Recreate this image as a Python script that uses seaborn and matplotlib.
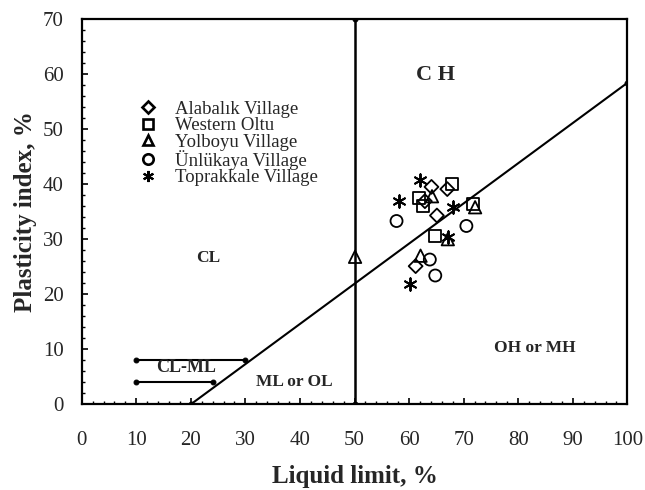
import matplotlib
matplotlib.use("Agg")
import matplotlib.pyplot as plt
from matplotlib.lines import Line2D
from matplotlib.ticker import MultipleLocator
import seaborn as sns
import pandas as pd

# ---- data ----
sites = ["Alabalık Village", "Western Oltu", "Yolboyu Village", "Ünlükaya Village", "Toprakkale Village"]
alabalik_ll = [67.0, 64.1, 62.9, 65.1, 61.2]
alabalik_pi = [39.1, 39.5, 36.9, 34.3, 25.1]
oltu_ll = [67.8, 61.8, 62.6, 71.8, 64.8]
oltu_pi = [40.1, 37.4, 36.1, 36.4, 30.5]
yolboyu_ll = [64.2, 72.1, 67.1, 62.1, 50.1]
yolboyu_pi = [37.8, 35.8, 30.0, 27.0, 26.8]
unlukaya_ll = [57.7, 70.5, 63.8, 64.8]
unlukaya_pi = [33.3, 32.4, 26.3, 23.4]
toprakkale_ll = [62.0, 58.1, 68.1, 67.1, 60.1]
toprakkale_pi = [40.8, 36.9, 35.9, 30.4, 21.9]

aline_ll = [20, 100]
aline_pi = [0, 58.4]
uline_ll = [50, 50]
uline_pi = [0, 70]
clml_top_ll = [10, 30]
clml_top_pi = [8, 8]
clml_bot_ll = [10, 24]
clml_bot_pi = [4, 4]

x_ticks = list(range(0, 101, 10))
y_ticks = list(range(0, 71, 10))

frames = []
for name, ll, pi in zip(sites,
                        [alabalik_ll, oltu_ll, yolboyu_ll, unlukaya_ll, toprakkale_ll],
                        [alabalik_pi, oltu_pi, yolboyu_pi, unlukaya_pi, toprakkale_pi]):
    frames.append(pd.DataFrame({"LL": ll, "PI": pi, "site": name}))
df = pd.concat(frames, ignore_index=True)

markers = {
    "Alabalık Village": "D",
    "Western Oltu": "s",
    "Yolboyu Village": "^",
    "Ünlükaya Village": "o",
    "Toprakkale Village": (6, 2, 0),
}
msizes = {
    "Alabalık Village": 50,
    "Western Oltu": 75,
    "Yolboyu Village": 80,
    "Ünlükaya Village": 75,
    "Toprakkale Village": 80,
}

sns.set_style("ticks")
plt.rcParams["font.family"] = ["Liberation Serif", "DejaVu Serif"]

fig = plt.figure(figsize=(6.45, 4.9), dpi=100)
ax = fig.add_axes([0.1267, 0.1749, 0.8459, 0.7863])

# reference lines
line_kw = dict(ax=ax, color="black", marker="o", ms=3.5, mec="black",
               estimator=None, errorbar=None, sort=False, legend=False)
sns.lineplot(x=aline_ll, y=aline_pi, lw=1.5, **line_kw)
sns.lineplot(x=uline_ll, y=uline_pi, lw=1.8, **line_kw)
sns.lineplot(x=clml_top_ll, y=clml_top_pi, lw=1.5, **line_kw)
sns.lineplot(x=clml_bot_ll, y=clml_bot_pi, lw=1.5, **line_kw)

for name in sites:
    sub = df[df["site"] == name]
    m = markers[name]
    if isinstance(m, tuple):
        sns.scatterplot(data=sub, x="LL", y="PI", ax=ax, marker=m, color="black",
                        s=msizes[name], linewidth=1.4, legend=False, zorder=5)
    else:
        sns.scatterplot(data=sub, x="LL", y="PI", ax=ax, marker=m, facecolor="none",
                        edgecolor="black", s=msizes[name], linewidth=1.3, legend=False, zorder=5)

ax.set_xlim(0, 100)
ax.set_ylim(0, 70)
ax.set_xticks(x_ticks)
ax.set_yticks(y_ticks)
ax.xaxis.set_minor_locator(MultipleLocator(2))
ax.yaxis.set_minor_locator(MultipleLocator(2))
ax.tick_params(axis="both", which="major", direction="in", length=4, width=1.2, labelsize=15, color="black")
ax.tick_params(axis="both", which="minor", direction="in", length=2.5, width=1.0, color="black")
ax.tick_params(axis="x", which="major", pad=19)
ax.tick_params(axis="y", which="major", pad=13)
for sp in ax.spines.values():
    sp.set_visible(True)
    sp.set_linewidth(1.6)
    sp.set_color("black")

ax.set_xlabel("Liquid limit, %", fontsize=18, fontweight="bold", labelpad=11)
ax.set_ylabel("Plasticity index, %", fontsize=18, fontweight="bold", labelpad=4)

# zone labels
ax.text(64.9, 59.8, "C H", fontsize=16, fontweight="bold", ha="center", va="center")
ax.text(23.1, 26.6, "CL", fontsize=12.5, fontweight="bold", ha="center", va="center")
ax.text(19.1, 6.7, "CL-ML", fontsize=13, fontweight="bold", ha="center", va="center")
ax.text(38.9, 4.1, "ML or OL", fontsize=12.5, fontweight="bold", ha="center", va="center")
ax.text(83.1, 10.2, "OH or MH", fontsize=12.5, fontweight="bold", ha="center", va="center")

handles = []
for name in sites:
    m = markers[name]
    if isinstance(m, tuple):
        h = Line2D([], [], ls="none", marker=m, color="black", ms=8, mew=1.5)
    else:
        h = Line2D([], [], ls="none", marker=m, mfc="none", mec="black", ms=7.5 if m != "D" else 6.5, mew=1.9)
    handles.append(h)
leg = ax.legend(handles, sites, loc="upper left", bbox_to_anchor=(0.101, 0.788), frameon=False,
                fontsize=13.5, labelspacing=-0.04, handletextpad=0.84, handlelength=1.2,
                borderpad=0, borderaxespad=0)

fig.savefig("out.png", dpi=100)
